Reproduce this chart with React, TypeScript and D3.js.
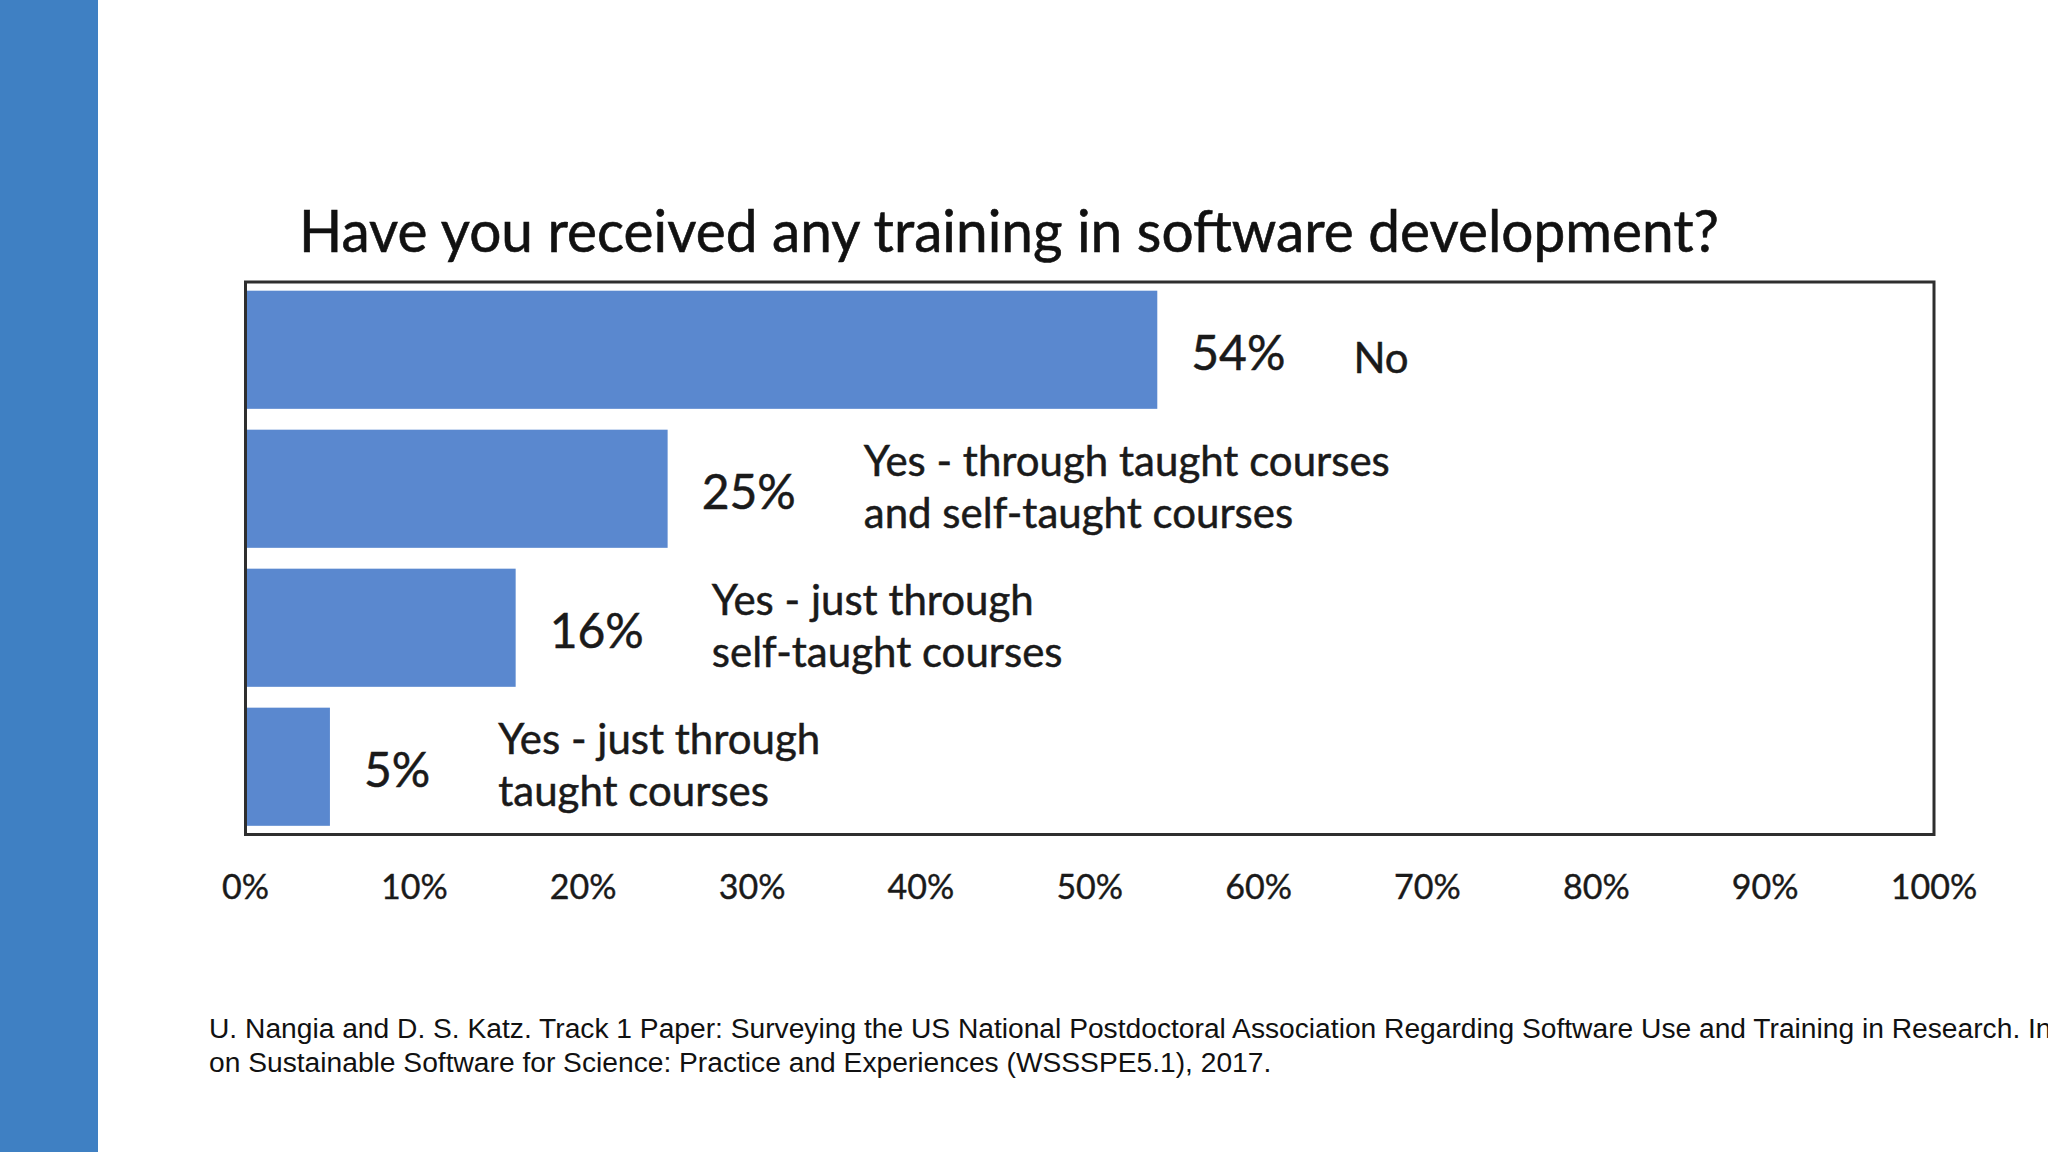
import React, { useEffect, useRef } from "react";
import * as d3 from "d3";

const categories = [
  ["No"],
  ["Yes - through taught courses", "and self-taught courses"],
  ["Yes - just through", "self-taught courses"],
  ["Yes - just through", "taught courses"],
];
const values = [54, 25, 16, 5];
const valueLabels = ["54%", "25%", "16%", "5%"];
const tickValues = [0, 10, 20, 30, 40, 50, 60, 70, 80, 90, 100];
const tickLabels = ["0%", "10%", "20%", "30%", "40%", "50%", "60%", "70%", "80%", "90%", "100%"];
const title = "Have you received any training in software development?";
const citation = [
  "U. Nangia and D. S. Katz. Track 1 Paper: Surveying the US National Postdoctoral Association Regarding Software Use and Training in Research. In Workshop",
  "on Sustainable Software for Science: Practice and Experiences (WSSSPE5.1), 2017.",
];

const W = 2048;
const H = 1152;
const FONT = "Lato, 'Open Sans', sans-serif";

export default function App() {
  const ref = useRef<SVGSVGElement | null>(null);

  useEffect(() => {
    const svg = d3.select(ref.current);
    svg.selectAll("*").remove();

    svg.append("rect").attr("width", W).attr("height", H).attr("fill", "#ffffff");
    svg.append("rect").attr("x", 0).attr("y", 0).attr("width", 98).attr("height", H).attr("fill", "#3f80c3");

    const x0 = 245.5, x1 = 1934, y0 = 282, y1 = 834.5;
    const x = d3.scaleLinear().domain([0, 100]).range([x0, x1]);
    const y = d3.scaleBand<number>().domain(d3.range(values.length)).range([y0, y1]).paddingInner(0.15).paddingOuter(0.0625);

    svg.append("text")
      .attr("x", 299).attr("y", 252)
      .attr("font-family", FONT).attr("font-size", 58).attr("fill", "#111")
      .attr("stroke", "#111").attr("stroke-width", 0.6)
      .attr("textLength", 1420).attr("lengthAdjust", "spacingAndGlyphs")
      .text(title);

    svg.append("g").selectAll("rect").data(values).join("rect")
      .attr("x", x(0))
      .attr("y", (_, i) => y(i)!)
      .attr("width", (d) => x(d) - x(0))
      .attr("height", y.bandwidth())
      .attr("fill", "#5a88cf");

    svg.append("rect")
      .attr("x", x0).attr("y", y0).attr("width", x1 - x0).attr("height", y1 - y0)
      .attr("fill", "none").attr("stroke", "#2e2e2e").attr("stroke-width", 3);

    const g = svg.append("g").attr("font-family", FONT).attr("fill", "#1a1a1a")
      .attr("stroke", "#1a1a1a").attr("stroke-width", 0.5);
    values.forEach((v, i) => {
      const cy = y(i)! + y.bandwidth() / 2;
      const vx = x(v) + 34;
      const vt = g.append("text")
        .attr("x", vx).attr("y", cy + 3 + 0.36 * 48)
        .attr("font-size", 48)
        .text(valueLabels[i]);
      const vw = (vt.node() as SVGTextElement).getComputedTextLength();
      const cx = vx + vw + 68;
      const lines = categories[i];
      const lh = 52;
      const first = cy - ((lines.length - 1) * lh) / 2 - 2 + (lines.length === 1 ? 10 : 0);
      lines.forEach((ln, j) => {
        g.append("text")
          .attr("x", cx).attr("y", first + j * lh + 0.36 * 42)
          .attr("font-size", 42)
          .text(ln);
      });
    });

    svg.append("g").attr("font-family", FONT).attr("font-size", 34).attr("fill", "#1a1a1a")
      .attr("stroke", "#1a1a1a").attr("stroke-width", 0.4)
      .selectAll("text").data(tickValues).join("text")
      .attr("x", (d) => x(d)).attr("y", 887 + 0.36 * 34)
      .attr("text-anchor", "middle")
      .text((_, i) => tickLabels[i]);

    svg.append("g").attr("font-family", "'Liberation Sans', Arial, sans-serif").attr("font-size", 28.2).attr("fill", "#111")
      .selectAll("text").data(citation).join("text")
      .attr("x", 209).attr("y", (_, i) => 1038 + i * 34)
      .text((d) => d);
  }, []);

  return (
    <svg ref={ref} width={W} height={H} style={{ position: "absolute", left: 0, top: 0, display: "block" }} />
  );
}
